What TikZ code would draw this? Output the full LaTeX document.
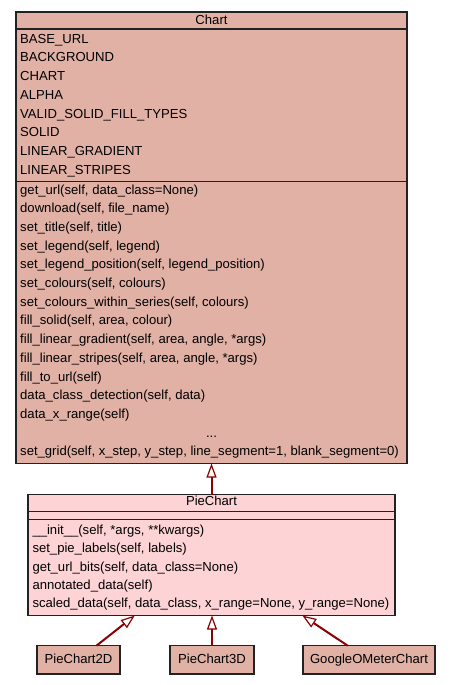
\documentclass[tikz,border=0pt]{standalone}
\usepackage{fontspec}
\setmainfont{Liberation Sans}
\usetikzlibrary{arrows.meta}
\definecolor{chartfill}{HTML}{E1B1A5}
\definecolor{piefill}{HTML}{FDD3D6}
\definecolor{inhcol}{HTML}{8B0000}
\definecolor{edgecol}{HTML}{222222}
\begin{document}
\begin{tikzpicture}[x=1pt,y=-1pt,
  box/.style={draw=edgecol, line width=1.2pt, inner sep=0pt, outer sep=0pt},
  sepline/.style={draw=edgecol, line width=1.2pt},
  lbl/.style={anchor=base west, inner sep=0pt, font=\fontsize{13.1}{15}\selectfont},
  ttl/.style={anchor=base, inner sep=0pt, font=\fontsize{13.1}{15}\selectfont},
  inh/.style={draw=inhcol, line width=2pt, -{Triangle[length=14pt,width=10pt,fill=white,line width=1.2pt]}}]
\useasboundingbox (0,0) rectangle (451,685);
% Chart class
\node[box, fill=chartfill, minimum width=391pt, minimum height=451.5pt] (chart) at (211.5,237.75) {};
\draw[sepline] (16,29) -- (407,29);
\draw[sepline] (16,181.5) -- (407,181.5);
\node[ttl] (charttitle) at (211.5,24.5) {Chart};
\foreach \t [count=\i from 0] in {BASE\_URL, BACKGROUND, CHART, ALPHA, VALID\_SOLID\_FILL\_TYPES, SOLID, LINEAR\_GRADIENT, LINEAR\_STRIPES}
  \node[lbl] (ca\i) at (20,43.3+18.68*\i) {\t};
\foreach \t [count=\i from 0] in {{get\_url(self, data\_class=None)}, {download(self, file\_name)}, {set\_title(self, title)}, {set\_legend(self, legend)}, {set\_legend\_position(self, legend\_position)}, {set\_colours(self, colours)}, {set\_colours\_within\_series(self, colours)}, {fill\_solid(self, area, colour)}, {fill\_linear\_gradient(self, area, angle, *args)}, {fill\_linear\_stripes(self, area, angle, *args)}, {fill\_to\_url(self)}, {data\_class\_detection(self, data)}, {data\_x\_range(self)}}
  \node[lbl] (cm\i) at (20,194+18.7*\i) {\t};
\node[ttl] (cdots) at (211.5,194+18.7*13) {...};
\node[lbl] (cgrid) at (20,194+18.7*14) {set\_grid(self, x\_step, y\_step, line\_segment=1, blank\_segment=0)};
% PieChart class
\node[box, fill=piefill, minimum width=367pt, minimum height=121pt] (pie) at (211.5,555) {};
\draw[sepline] (28,511.5) -- (395,511.5);
\draw[sepline] (28,519.5) -- (395,519.5);
\node[ttl] (pietitle) at (211.5,505.7) {PieChart};
\foreach \t [count=\i from 0] in {{\_\_init\_\_(self, *args, **kwargs)}, {set\_pie\_labels(self, labels)}, {get\_url\_bits(self, data\_class=None)}, {annotated\_data(self)}, {scaled\_data(self, data\_class, x\_range=None, y\_range=None)}}
  \node[lbl] (pm\i) at (32.3,534.3+18.4*\i) {\t};
% subclasses
\node[box, fill=chartfill, minimum width=83pt, minimum height=28.3pt] (p2d) at (78.5,659.85) {};
\node[ttl] (p2dt) at (78.5,663.3) {PieChart2D};
\node[box, fill=chartfill, minimum width=84pt, minimum height=28.3pt] (p3d) at (212,659.85) {};
\node[ttl] (p3dt) at (212,663.3) {PieChart3D};
\node[box, fill=chartfill, minimum width=132pt, minimum height=28.3pt] (gom) at (369,659.85) {};
\node[ttl] (gomt) at (369,663.3) {GoogleOMeterChart};
% inheritance
\draw[inh] (pie.north) -- (chart.south);
\draw[inh] (p2d) -- (pie);
\draw[inh] (p3d.north) -- (p3d.north |- pie.south);
\draw[inh] (gom) -- (pie);
\end{tikzpicture}
\end{document}
